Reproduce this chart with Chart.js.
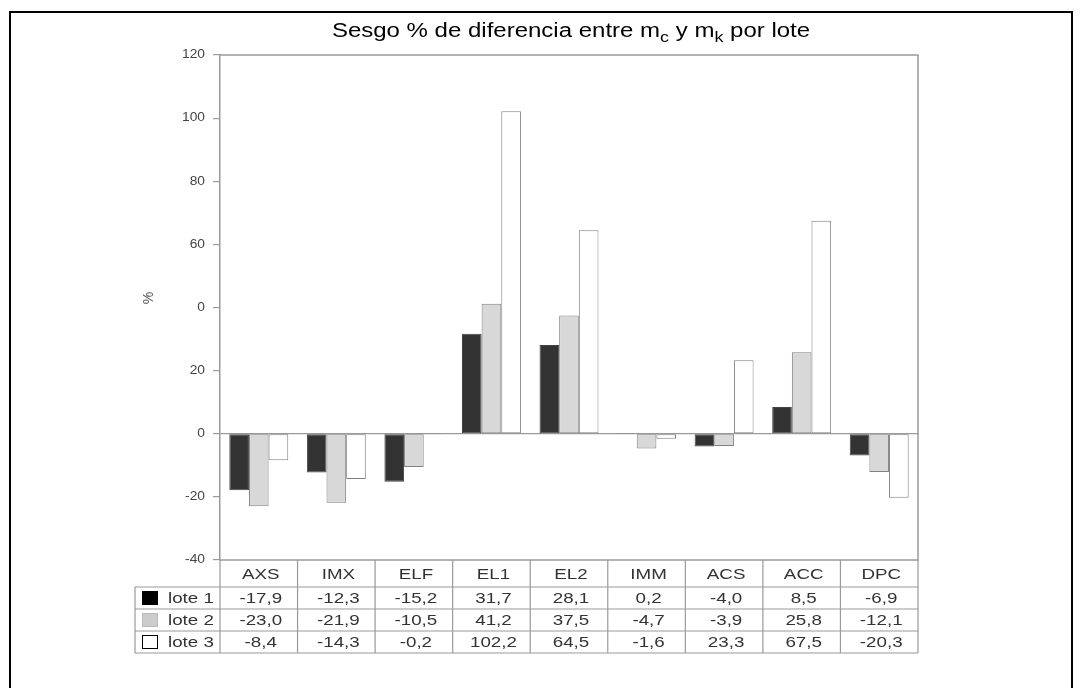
<!DOCTYPE html>
<html>
<head>
<meta charset="utf-8">
<script src="https://cdn.jsdelivr.net/npm/chart.js@4.4.0/dist/chart.umd.min.js"></script>
<style>
  html, body { margin: 0; padding: 0; background: #fff; }
  #wrap { width: 1082px; height: 688px; }
</style>
</head>
<body>
<div id="wrap"><canvas id="chart" width="1082" height="688"></canvas></div>
<script>
  "use strict";

  var categories = ["AXS", "IMX", "ELF", "EL1", "EL2", "IMM", "ACS", "ACC", "DPC"];
  var seriesNames = ["lote 1", "lote 2", "lote 3"];
  var lote1 = [-17.9, -12.3, -15.2, 31.7, 28.1, 0.2, -4.0, 8.5, -6.9];
  var lote2 = [-23.0, -21.9, -10.5, 41.2, 37.5, -4.7, -3.9, 25.8, -12.1];
  var lote3 = [-8.4, -14.3, -0.2, 102.2, 64.5, -1.6, 23.3, 67.5, -20.3];
  var yTickValues = [-40, -20, 0, 20, 40, 60, 80, 100, 120];
  var yTickLabels = ["-40", "-20", "0", "20", "0", "60", "80", "100", "120"];

  var FONT = "'Liberation Sans', Arial, sans-serif";
  var FILLS = ["#333333", "#d8d8d8", "#ffffff"];
  var SWATCH = ["#000000", "#cccccc", "#ffffff"];
  var LINE = "#9a9a9a";
  var STRETCH = 1.25; // the scanned original is wider than plain Arial

  function fmt(v) {
    return v.toFixed(1).replace(".", ",");
  }

  // text drawn a bit wider, like the scan
  function wideText(c, txt, x, y, align, sx) {
    c.save();
    c.translate(x, y);
    c.scale(sx, 1);
    c.textAlign = align;
    c.fillText(txt, 0, 0);
    c.restore();
  }

  // title, frame, tick labels, "%" and the data table
  var decorPlugin = {
    id: "decor",
    afterDraw: function (chart) {
      var c = chart.ctx;
      var a = chart.chartArea;
      var x = chart.scales.x;
      var y = chart.scales.y;
      var colW = (a.right - a.left) / categories.length;
      c.save();

      // outer box
      c.strokeStyle = "#000";
      c.lineWidth = 2;
      c.beginPath();
      c.moveTo(10, 700); c.lineTo(10, 12); c.lineTo(1072, 12); c.lineTo(1072, 700);
      c.stroke();

      // title with subscripts
      var parts = [
        ["Sesgo % de diferencia entre m", false],
        ["c", true],
        [" y m", false],
        ["k", true],
        [" por lote", false]
      ];
      var tsx = 1.2;
      var total = 0;
      parts.forEach(function (p) {
        c.font = (p[1] ? "15px " : "20px ") + FONT;
        total += c.measureText(p[0]).width * tsx;
      });
      var tx = 571 - total / 2;
      c.fillStyle = "#000";
      c.textBaseline = "alphabetic";
      parts.forEach(function (p) {
        c.font = (p[1] ? "15px " : "20px ") + FONT;
        wideText(c, p[0], tx, p[1] ? 42 : 37, "left", tsx);
        tx += c.measureText(p[0]).width * tsx;
      });

      // y tick labels
      c.font = "12px " + FONT;
      c.fillStyle = "#444";
      c.textBaseline = "middle";
      yTickValues.forEach(function (v, k) {
        wideText(c, yTickLabels[k], a.left - 15, y.getPixelForValue(v), "right", 1.15);
      });

      // "%" axis label
      c.save();
      c.translate(149, 298);
      c.rotate(-Math.PI / 2);
      c.font = "14px " + FONT;
      c.fillStyle = "#555";
      c.textAlign = "center";
      c.textBaseline = "middle";
      c.fillText("%", 0, 0);
      c.restore();

      // plot frame
      c.strokeStyle = LINE;
      c.lineWidth = 1.5;
      c.beginPath();
      c.moveTo(a.left, a.top); c.lineTo(a.right, a.top);
      c.lineTo(a.right, a.bottom); c.lineTo(a.left, a.bottom);
      c.stroke();

      // data table
      var rows = [a.bottom, a.bottom + 27, a.bottom + 49, a.bottom + 71, a.bottom + 93];
      var legLeft = 135;
      c.lineWidth = 1.2;
      c.beginPath();
      for (var r = 1; r < rows.length; r++) {
        c.moveTo(legLeft, rows[r]); c.lineTo(a.right, rows[r]);
      }
      for (var i = 0; i <= categories.length; i++) {
        var lx = a.left + i * colW;
        c.moveTo(lx, rows[0]); c.lineTo(lx, rows[4]);
      }
      c.moveTo(legLeft, rows[1]); c.lineTo(legLeft, rows[4]);
      c.stroke();

      c.font = "15px " + FONT;
      c.fillStyle = "#333";
      c.textBaseline = "middle";
      var data = [lote1, lote2, lote3];
      categories.forEach(function (cat, j) {
        var cx = x.getPixelForValue(j) + 2;
        wideText(c, cat, cx, (rows[0] + rows[1]) / 2 + 1, "center", STRETCH);
        for (var s = 0; s < 3; s++) {
          wideText(c, fmt(data[s][j]), cx, (rows[s + 1] + rows[s + 2]) / 2 + 1, "center", STRETCH);
        }
      });

      // legend keys
      for (var s = 0; s < 3; s++) {
        var cy = (rows[s + 1] + rows[s + 2]) / 2;
        c.fillStyle = SWATCH[s];
        c.fillRect(142, cy - 7, 16, 14);
        c.strokeStyle = s === 1 ? "#bbb" : "#000";
        c.lineWidth = 1;
        c.strokeRect(142.5, cy - 6.5, 15, 13);
        c.fillStyle = "#333";
        wideText(c, seriesNames[s], 168, cy + 1, "left", STRETCH);
      }
      c.restore();
    }
  };

  function makeSet(label, values, idx) {
    return {
      label: label,
      data: values,
      backgroundColor: FILLS[idx],
      borderColor: idx === 0 ? "#444" : "#808080",
      borderWidth: 1,
      borderSkipped: false,
      categoryPercentage: 0.76,
      barPercentage: 1.0
    };
  }

  new Chart(document.getElementById("chart"), {
    type: "bar",
    data: {
      labels: categories,
      datasets: [
        makeSet(seriesNames[0], lote1, 0),
        makeSet(seriesNames[1], lote2, 1),
        makeSet(seriesNames[2], lote3, 2)
      ]
    },
    options: {
      responsive: false,
      animation: false,
      layout: { padding: { left: 160, right: 164, top: 55, bottom: 128 } },
      plugins: {
        legend: { display: false },
        tooltip: { enabled: false }
      },
      scales: {
        x: { display: false, offset: true },
        y: {
          min: -40,
          max: 120,
          afterFit: function (scale) { scale.width = 60; },
          afterBuildTicks: function (scale) {
            scale.ticks = yTickValues.map(function (v) { return { value: v }; });
          },
          border: { display: true, color: LINE, width: 1.5 },
          grid: {
            drawOnChartArea: true,
            drawTicks: true,
            tickLength: 7,
            tickColor: LINE,
            lineWidth: 1.2,
            color: function (ctx) {
              return ctx.tick && ctx.tick.value === 0 ? LINE : "rgba(0,0,0,0)";
            }
          },
          ticks: { display: false }
        }
      }
    },
    plugins: [decorPlugin]
  });
</script>
</body>
</html>
